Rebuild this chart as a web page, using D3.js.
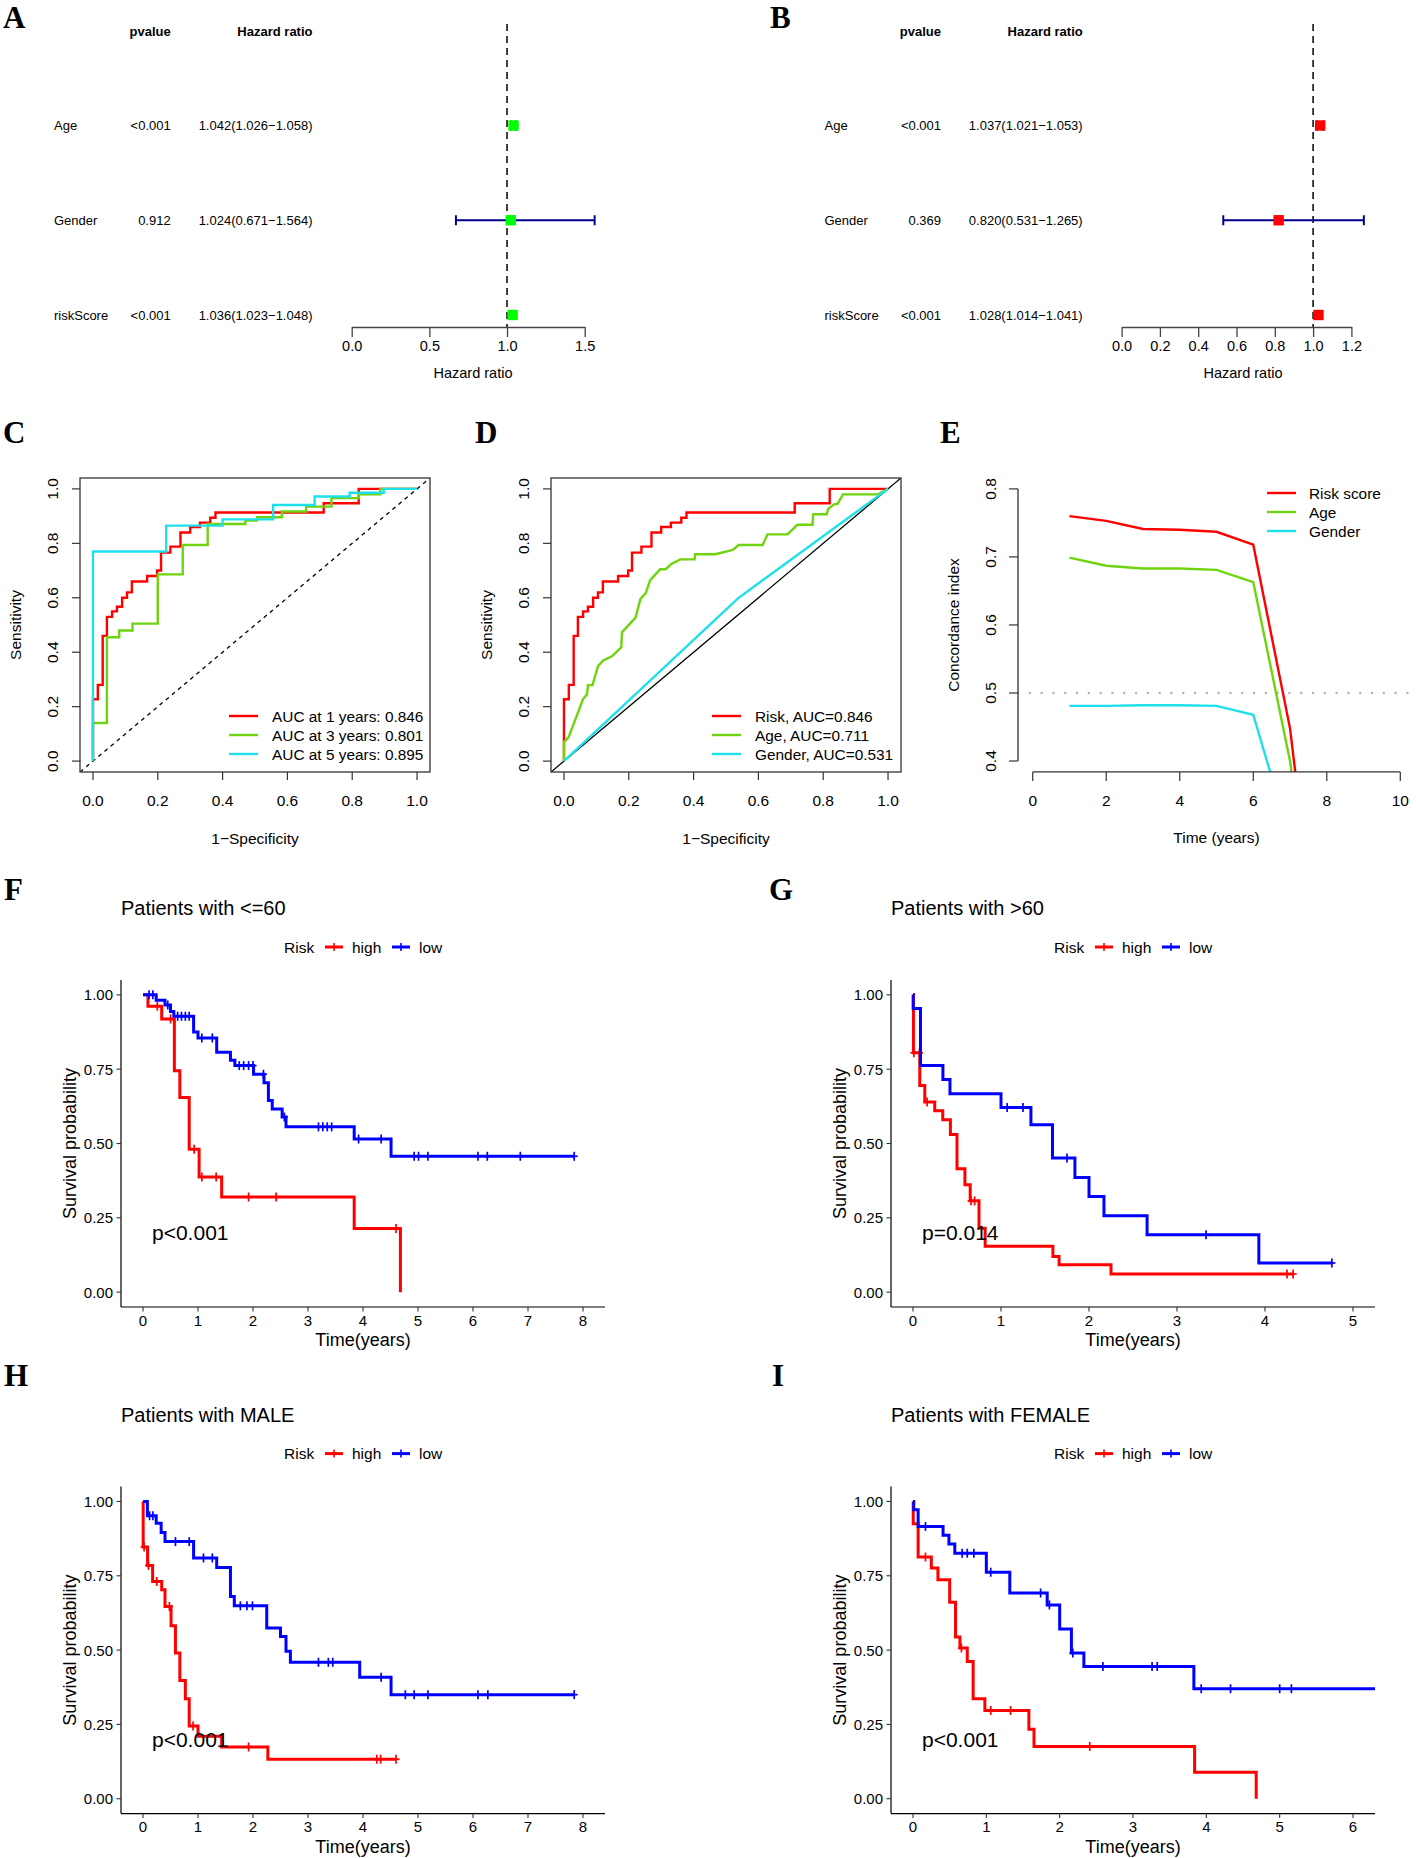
<!DOCTYPE html>
<html><head><meta charset="utf-8">
<script src="https://cdn.jsdelivr.net/npm/d3@7"></script>
<style>body{margin:0;background:#fff}svg{display:block;font-family:"Liberation Sans",Arial,Helvetica,sans-serif}</style>
</head><body><svg id="c" width="1416" height="1858"></svg>
<script>
// ---------------- DATA ----------------
const forestVars = ["Age","Gender","riskScore"];
const uniP  = ["<0.001","0.912","<0.001"];
const uniHR = [1.042,1.024,1.036];
const uniLo = [1.026,0.671,1.023];
const uniHi = [1.058,1.564,1.048];
const uniTicks = [0,0.5,1.0,1.5];
const multiP  = ["<0.001","0.369","<0.001"];
const multiHR = [1.037,0.820,1.028];
const multiLo = [1.021,0.531,1.014];
const multiHi = [1.053,1.265,1.041];
const multiTicks = [0,0.2,0.4,0.6,0.8,1.0,1.2];

// ROC (FPR, TPR) step vertices
const rocRisk1 = [[0,0],[0,0.227],[0.015,0.28],[0.03,0.46],[0.043,0.53],[0.059,0.55],[0.074,0.567],[0.09,0.60],[0.105,0.62],[0.12,0.66],[0.167,0.68],[0.198,0.70],[0.21,0.766],[0.239,0.788],[0.27,0.84],[0.30,0.86],[0.33,0.876],[0.362,0.894],[0.378,0.913],[0.712,0.947],[0.82,1.0],[1,1]];
const rocYear3 = [[0,0],[0,0.14],[0.043,0.455],[0.081,0.48],[0.122,0.505],[0.2,0.686],[0.277,0.794],[0.354,0.871],[0.47,0.884],[0.506,0.896],[0.583,0.917],[0.658,0.935],[0.736,0.966],[0.82,0.98],[0.887,1.0],[1,1]];
const rocYear5 = [[0,0],[0,0.77],[0.226,0.865],[0.4,0.888],[0.556,0.941],[0.684,0.972],[0.792,0.986],[0.897,1.0],[1,1]];
const rocAge = [[0,0],[0,0.07],[0.014,0.087],[0.059,0.228],[0.071,0.245],[0.074,0.279],[0.088,0.279],[0.105,0.349],[0.12,0.369],[0.149,0.386],[0.177,0.418],[0.179,0.473],[0.221,0.527],[0.236,0.596],[0.252,0.616],[0.266,0.665],[0.297,0.705],[0.314,0.705],[0.331,0.724],[0.359,0.741],[0.403,0.741],[0.405,0.76],[0.467,0.76],[0.521,0.776],[0.539,0.794],[0.613,0.794],[0.628,0.833],[0.69,0.833],[0.72,0.868],[0.767,0.868],[0.769,0.907],[0.811,0.907],[0.815,0.926],[0.835,0.944],[0.844,0.944],[0.861,0.98],[0.969,0.98],[1,1]];
const rocGender = [[0,0],[0.537,0.598],[1,1]];
const rocLegendC = ["AUC at 1 years: 0.846","AUC at 3 years: 0.801","AUC at 5 years: 0.895"];
const rocLegendD = ["Risk, AUC=0.846","Age, AUC=0.711","Gender, AUC=0.531"];
const rocTicks = [0,0.2,0.4,0.6,0.8,1.0];

// C-index over time
const cTimes  = [1,2,3,4,5,6,7,8];
const cRisk   = [0.760,0.753,0.741,0.740,0.737,0.718,0.448,0.0];
const cAge    = [0.699,0.687,0.683,0.683,0.681,0.663,0.400,0.0];
const cGender = [0.481,0.481,0.482,0.482,0.481,0.468,0.285,0.0];
const cLegend = ["Risk score","Age","Gender"];
const cXTicks = [0,2,4,6,8,10];
const cYTicks = [0.4,0.5,0.6,0.7,0.8];

// Kaplan-Meier: [time, survival after drop]
const fHighSteps = [[0.09,0.962],[0.34,0.919],[0.57,0.745],[0.67,0.655],[0.84,0.481],[1.02,0.387],[1.43,0.32],[3.84,0.214],[4.68,0]];
const fHighCens  = [0.26,0.5,0.93,1.07,1.33,1.92,2.42,4.6];
const fLowSteps  = [[0.24,0.982],[0.40,0.966],[0.50,0.944],[0.56,0.928],[0.92,0.875],[1.0,0.855],[1.34,0.807],[1.59,0.78],[1.67,0.762],[2.01,0.733],[2.2,0.704],[2.28,0.645],[2.35,0.616],[2.53,0.589],[2.6,0.556],[3.84,0.515],[4.51,0.457]];
const fLowCens   = [0.11,0.18,0.45,0.63,0.7,0.77,0.84,1.07,1.26,1.75,1.83,1.92,2.0,2.19,2.57,3.19,3.27,3.35,3.43,3.92,4.33,4.93,5.01,5.18,6.09,6.26,6.86,7.84];
const gHighSteps = [[0.005,0.805],[0.077,0.695],[0.134,0.64],[0.247,0.61],[0.338,0.58],[0.425,0.53],[0.5,0.415],[0.59,0.361],[0.65,0.307],[0.75,0.215],[0.82,0.154],[1.59,0.12],[1.66,0.092],[2.25,0.061]];
const gHighCens  = [0.01,0.074,0.16,0.66,0.7,4.25,4.32];
const gLowSteps  = [[0.002,0.954],[0.085,0.762],[0.34,0.715],[0.42,0.667],[1.0,0.621],[1.34,0.563],[1.585,0.451],[1.84,0.386],[2.0,0.322],[2.17,0.257],[2.66,0.193],[3.93,0.098]];
const gLowCens   = [1.07,1.25,1.75,3.33,4.76];
const hHighSteps = [[0.003,0.847],[0.083,0.785],[0.175,0.731],[0.34,0.703],[0.4,0.647],[0.51,0.582],[0.59,0.49],[0.67,0.398],[0.77,0.336],[0.84,0.245],[1.0,0.21],[1.43,0.174],[2.27,0.133]];
const hHighCens  = [0.02,0.1,0.25,0.48,0.91,1.92,4.25,4.32,4.6];
const hLowSteps  = [[0.08,0.952],[0.24,0.927],[0.33,0.896],[0.4,0.865],[0.92,0.81],[1.34,0.778],[1.59,0.68],[1.66,0.649],[2.25,0.574],[2.5,0.546],[2.6,0.496],[2.68,0.459],[3.94,0.409],[4.51,0.35]];
const hLowCens   = [0.12,0.18,0.59,0.84,1.1,1.26,1.77,1.89,1.99,3.19,3.37,3.45,4.33,4.77,4.93,5.18,6.09,6.27,7.84];
const iHighSteps = [[0.003,0.925],[0.07,0.813],[0.25,0.776],[0.34,0.737],[0.5,0.661],[0.58,0.544],[0.64,0.507],[0.74,0.462],[0.82,0.336],[0.98,0.297],[1.58,0.234],[1.65,0.176],[3.84,0.089],[4.68,0]];
const iHighCens  = [0.17,0.66,1.06,1.33,2.41];
const iLowSteps  = [[0.01,0.972],[0.07,0.916],[0.41,0.886],[0.49,0.857],[0.57,0.826],[1.0,0.762],[1.32,0.692],[1.83,0.652],[2.0,0.571],[2.16,0.49],[2.33,0.445],[3.83,0.37]];
const iLowCens   = [0.17,0.67,0.74,0.83,1.06,1.74,1.86,2.18,2.59,3.26,3.33,3.93,4.33,5.0,5.16,6.86,7.84];
const kmYTicks = [0,0.25,0.5,0.75,1.0];
const kmTitles = ["Patients with <=60","Patients with >60","Patients with MALE","Patients with FEMALE"];
const kmP = ["p<0.001","p=0.014","p<0.001","p<0.001"];

// ---------------- DRAW ----------------
const svg = d3.select("#c");
const RED="#FF0000", GREEN="#6FD40F", CYAN="#1FE0EA", BLUE="#0000FF", NAVY="#00008B";
function txt(g,x,y,s,o={}){
  const t=g.append("text").attr("x",x).attr("y",y).text(s)
    .attr("font-size",o.size||14).attr("fill",o.fill||"#000")
    .attr("text-anchor",o.anchor||"start").attr("dominant-baseline",o.base||"central");
  if(o.weight) t.attr("font-weight",o.weight);
  if(o.rot!=null) t.attr("transform",`rotate(${o.rot},${x},${y})`);
  if(o.family) t.attr("font-family",o.family);
  return t;
}
// panel letters
[["A",3,28],["B",770,28],["C",3,443],["D",475,443],["E",940,443],["F",4,900],["G",769,900],["H",4,1386],["I",772,1386]]
 .forEach(([l,x,y])=>txt(svg,x,y,l,{size:31,weight:"bold",base:"alphabetic",family:'"Liberation Serif","Times New Roman",serif'}));

// ---- Forest plots ----
function forest(o){
  const g=svg.append("g");
  const x=d3.scaleLinear().domain([0,o.ticks[o.ticks.length-1]]).range([o.x0,o.x1]);
  const rowY=d3.scalePoint().domain(forestVars).range([125.5,315]);
  const axY=327;
  const f3=d3.format(".3f");
  txt(g,o.pRight,31,"pvalue",{anchor:"end",weight:"bold",size:13});
  txt(g,o.hrRight,31,"Hazard ratio",{anchor:"end",weight:"bold",size:13});
  forestVars.forEach((v,i)=>{
    txt(g,o.labX,rowY(v),v,{size:13});
    txt(g,o.pRight,rowY(v),o.p[i],{anchor:"end",size:13});
    txt(g,o.hrRight,rowY(v),`${f3(o.hr[i])}(${f3(o.lo[i])}\u2212${f3(o.hi[i])})`,{anchor:"end",size:13});
  });
  g.append("line").attr("x1",x(1)).attr("x2",x(1)).attr("y1",24).attr("y2",axY)
    .attr("stroke","#000").attr("stroke-width",1.5).attr("stroke-dasharray","7,5");
  forestVars.forEach((v,i)=>{
    const yy=rowY(v);
    g.append("line").attr("x1",x(o.lo[i])).attr("x2",x(o.hi[i])).attr("y1",yy).attr("y2",yy).attr("stroke",NAVY).attr("stroke-width",2);
    [o.lo[i],o.hi[i]].forEach(e=>g.append("line").attr("x1",x(e)).attr("x2",x(e)).attr("y1",yy-5).attr("y2",yy+5).attr("stroke",NAVY).attr("stroke-width",2));
    g.append("rect").attr("x",x(o.hr[i])-5.2).attr("y",yy-5.2).attr("width",10.4).attr("height",10.4).attr("fill",o.box);
  });
  const ax=g.append("g").attr("transform",`translate(0,${axY})`)
    .call(d3.axisBottom(x).tickValues(o.ticks).tickFormat(d3.format(".1f")).tickSize(10).tickSizeOuter(0).tickPadding(4));
  ax.selectAll("path,line").attr("stroke","#444").attr("stroke-width",1.3);
  ax.selectAll("text").attr("font-size",14.5).attr("fill","#000").attr("font-family",null);
  txt(g,o.labCx,373,"Hazard ratio",{anchor:"middle",size:14.5});
}
forest({ticks:uniTicks,x0:351.7,x1:584.7,p:uniP,hr:uniHR,lo:uniLo,hi:uniHi,labX:54,pRight:170.7,hrRight:312.5,box:"#00FF00",labCx:473});
forest({ticks:multiTicks,x0:1121.6,x1:1351.4,p:multiP,hr:multiHR,lo:multiLo,hi:multiHi,labX:824.5,pRight:941,hrRight:1082.7,box:"#FF0000",labCx:1243});

// ---- ROC panels ----
function rocPanel(o){
  const g=svg.append("g");
  const top=478,bot=772;
  const x=d3.scaleLinear().domain([-0.04,1.04]).range([o.left,o.left+350]);
  const y=d3.scaleLinear().domain([-0.04,1.04]).range([bot,top]);
  const id="clip"+o.id;
  svg.append("clipPath").attr("id",id).append("rect").attr("x",o.left).attr("y",top).attr("width",350).attr("height",bot-top);
  const pg=g.append("g").attr("clip-path",`url(#${id})`);
  const diag=pg.append("line").attr("x1",x(-0.04)).attr("y1",y(-0.04)).attr("x2",x(1.04)).attr("y2",y(1.04)).attr("stroke","#000").attr("stroke-width",1.3);
  if(o.dashDiag) diag.attr("stroke-dasharray","4,4");
  o.curves.forEach(c=>{
    pg.append("path").datum(c.data).attr("fill","none").attr("stroke",c.color).attr("stroke-width",2.4)
      .attr("d",d3.line().x(d=>x(d[0])).y(d=>y(d[1])).curve(c.step?d3.curveStepAfter:d3.curveLinear));
  });
  g.append("rect").attr("x",o.left).attr("y",top).attr("width",350).attr("height",bot-top).attr("fill","none").attr("stroke","#333").attr("stroke-width",1.3);
  rocTicks.forEach(t=>{
    g.append("line").attr("x1",x(t)).attr("x2",x(t)).attr("y1",bot).attr("y2",bot+8).attr("stroke","#333").attr("stroke-width",1.2);
    txt(g,x(t),800,d3.format(".1f")(t),{anchor:"middle",size:15.5});
    g.append("line").attr("x1",o.left).attr("x2",o.left-8).attr("y1",y(t)).attr("y2",y(t)).attr("stroke","#333").attr("stroke-width",1.2);
    txt(g,o.left-27,y(t),d3.format(".1f")(t),{anchor:"middle",size:15.5,rot:-90});
  });
  txt(g,o.left-65,625,"Sensitivity",{anchor:"middle",size:15.5,rot:-90});
  txt(g,o.left+175,838,"1\u2212Specificity",{anchor:"middle",size:15.5});
  o.curves.forEach((c,i)=>{
    const ly=716+19*i;
    g.append("line").attr("x1",o.legX).attr("x2",o.legX+29).attr("y1",ly).attr("y2",ly).attr("stroke",c.color).attr("stroke-width",2.4);
    txt(g,o.legX+43,ly,o.legend[i],{size:15.4});
  });
}
rocPanel({id:"C",left:80,dashDiag:true,legX:229,legend:rocLegendC,
  curves:[{data:rocRisk1,color:RED,step:true},{data:rocYear3,color:GREEN,step:true},{data:rocYear5,color:CYAN,step:true}]});
rocPanel({id:"D",left:551,dashDiag:false,legX:712,legend:rocLegendD,
  curves:[{data:rocRisk1,color:RED,step:true},{data:rocAge,color:GREEN,step:false},{data:rocGender,color:CYAN,step:false}]});

// ---- C-index panel E ----
(function(){
  const g=svg.append("g");
  const left=1018,right=1415,bot=771.9,top=478;
  const x=d3.scaleLinear().domain([-0.4,10.4]).range([left,right]);
  const y=d3.scaleLinear().domain([0.384,0.816]).range([bot,top]);
  svg.append("clipPath").attr("id","clipE").append("rect").attr("x",left).attr("y",top).attr("width",right-left).attr("height",bot-top);
  const pg=g.append("g").attr("clip-path","url(#clipE)");
  pg.append("line").attr("x1",left).attr("x2",1416).attr("y1",y(0.5)).attr("y2",y(0.5))
    .attr("stroke","#b4b4b4").attr("stroke-width",2.4).attr("stroke-dasharray","0.1,11.7").attr("stroke-linecap","round");
  [[cRisk,RED],[cAge,GREEN],[cGender,CYAN]].forEach(([vals,col])=>{
    pg.append("path").datum(cTimes.map((t,i)=>[t,vals[i]])).attr("fill","none").attr("stroke",col).attr("stroke-width",2.4)
      .attr("d",d3.line().x(d=>x(d[0])).y(d=>y(d[1])));
  });
  g.append("line").attr("x1",left).attr("x2",left).attr("y1",y(0.4)).attr("y2",y(0.8)).attr("stroke","#333").attr("stroke-width",1.3);
  cYTicks.forEach(t=>{
    g.append("line").attr("x1",left).attr("x2",left-9).attr("y1",y(t)).attr("y2",y(t)).attr("stroke","#333").attr("stroke-width",1.2);
    txt(g,left-27,y(t),d3.format(".1f")(t),{anchor:"middle",size:15.5,rot:-90});
  });
  g.append("line").attr("x1",x(0)).attr("x2",x(10)).attr("y1",bot).attr("y2",bot).attr("stroke","#333").attr("stroke-width",1.3);
  cXTicks.forEach(t=>{
    g.append("line").attr("x1",x(t)).attr("x2",x(t)).attr("y1",bot).attr("y2",bot+9).attr("stroke","#333").attr("stroke-width",1.2);
    txt(g,x(t),800,String(t),{anchor:"middle",size:15.5});
  });
  txt(g,953,625,"Concordance index",{anchor:"middle",size:15.5,rot:-90});
  txt(g,(left+right)/2,837,"Time (years)",{anchor:"middle",size:15.5});
  [RED,GREEN,CYAN].forEach((c,i)=>{
    const ly=493+19*i;
    g.append("line").attr("x1",1267).attr("x2",1296).attr("y1",ly).attr("y2",ly).attr("stroke",c).attr("stroke-width",2.4);
    txt(g,1309,ly,cLegend[i],{size:15.4});
  });
})();

// ---- Kaplan-Meier panels ----
function km(o){
  const g=svg.append("g");
  const left=o.left, top=o.top, right=left+484, bot=top+327;
  const x=d3.scaleLinear().domain(o.xdom).range([left,right]);
  const y=d3.scaleLinear().domain([-0.05,1.05]).range([bot,top]);
  const id="clipKM"+o.id;
  svg.append("clipPath").attr("id",id).append("rect").attr("x",left).attr("y",top-5).attr("width",right-left).attr("height",bot-top+5);
  const pg=g.append("g").attr("clip-path",`url(#${id})`);
  txt(g,left,top-72,o.title,{size:20});
  // legend
  const ly=top-33;
  txt(g,left+163,ly,"Risk",{size:15.5});
  [[RED,204,"high"],[BLUE,271,"low"]].forEach(([c,dx,lab])=>{
    g.append("line").attr("x1",left+dx).attr("x2",left+dx+18).attr("y1",ly).attr("y2",ly).attr("stroke",c).attr("stroke-width",3);
    g.append("line").attr("x1",left+dx+9).attr("x2",left+dx+9).attr("y1",ly-4).attr("y2",ly+4).attr("stroke",c).attr("stroke-width",1.6);
    txt(g,left+dx+27,ly,lab,{size:15.5});
  });
  function surv(steps,t){let s=1;steps.forEach(d=>{if(d[0]<=t)s=d[1];});return s;}
  [[o.high,RED],[o.low,BLUE]].forEach(([grp,col])=>{
    const last=grp.steps[grp.steps.length-1];
    const end=Math.max(last[0],d3.max(grp.cens));
    const pts=[[0,1]].concat(grp.steps).concat([[end,surv(grp.steps,end)]]);
    pg.append("path").datum(pts).attr("fill","none").attr("stroke",col).attr("stroke-width",3)
      .attr("d",d3.line().x(d=>x(d[0])).y(d=>y(d[1])).curve(d3.curveStepAfter));
    grp.cens.forEach(c=>{
      const cx=x(c), cy=y(surv(grp.steps,c));
      pg.append("line").attr("x1",cx-3.5).attr("x2",cx+3.5).attr("y1",cy).attr("y2",cy).attr("stroke",col).attr("stroke-width",1.7);
      pg.append("line").attr("x1",cx).attr("x2",cx).attr("y1",cy-4.5).attr("y2",cy+4.5).attr("stroke",col).attr("stroke-width",1.7);
    });
  });
  // axes
  g.append("line").attr("x1",left).attr("x2",left).attr("y1",top).attr("y2",bot).attr("stroke","#000").attr("stroke-width",1.2);
  g.append("line").attr("x1",left).attr("x2",right).attr("y1",bot).attr("y2",bot).attr("stroke","#000").attr("stroke-width",1.2);
  kmYTicks.forEach(t=>{
    g.append("line").attr("x1",left).attr("x2",left-4.5).attr("y1",y(t)).attr("y2",y(t)).attr("stroke","#333").attr("stroke-width",1.1);
    txt(g,left-8,y(t),d3.format(".2f")(t),{anchor:"end",size:15});
  });
  o.xticks.forEach(t=>{
    g.append("line").attr("x1",x(t)).attr("x2",x(t)).attr("y1",bot).attr("y2",bot+4.5).attr("stroke","#333").attr("stroke-width",1.1);
    txt(g,x(t),bot+13,String(t),{anchor:"middle",size:15});
  });
  txt(g,left-51,(top+bot)/2,"Survival probability",{anchor:"middle",size:18,rot:-90});
  txt(g,(left+right)/2,bot+33,"Time(years)",{anchor:"middle",size:18});
  txt(g,left+31,y(0.2),o.p,{size:21});
}
km({id:"F",left:121,top:980,xdom:[-0.4,8.4],xticks:d3.range(0,9),title:kmTitles[0],p:kmP[0],high:{steps:fHighSteps,cens:fHighCens},low:{steps:fLowSteps,cens:fLowCens}});
km({id:"G",left:891,top:980,xdom:[-0.25,5.25],xticks:d3.range(0,6),title:kmTitles[1],p:kmP[1],high:{steps:gHighSteps,cens:gHighCens},low:{steps:gLowSteps,cens:gLowCens}});
km({id:"H",left:121,top:1486.6,xdom:[-0.4,8.4],xticks:d3.range(0,9),title:kmTitles[2],p:kmP[2],high:{steps:hHighSteps,cens:hHighCens},low:{steps:hLowSteps,cens:hLowCens}});
km({id:"I",left:891,top:1486.6,xdom:[-0.3,6.3],xticks:d3.range(0,7),title:kmTitles[3],p:kmP[3],high:{steps:iHighSteps,cens:iHighCens},low:{steps:iLowSteps,cens:iLowCens}});
</script></body></html>
